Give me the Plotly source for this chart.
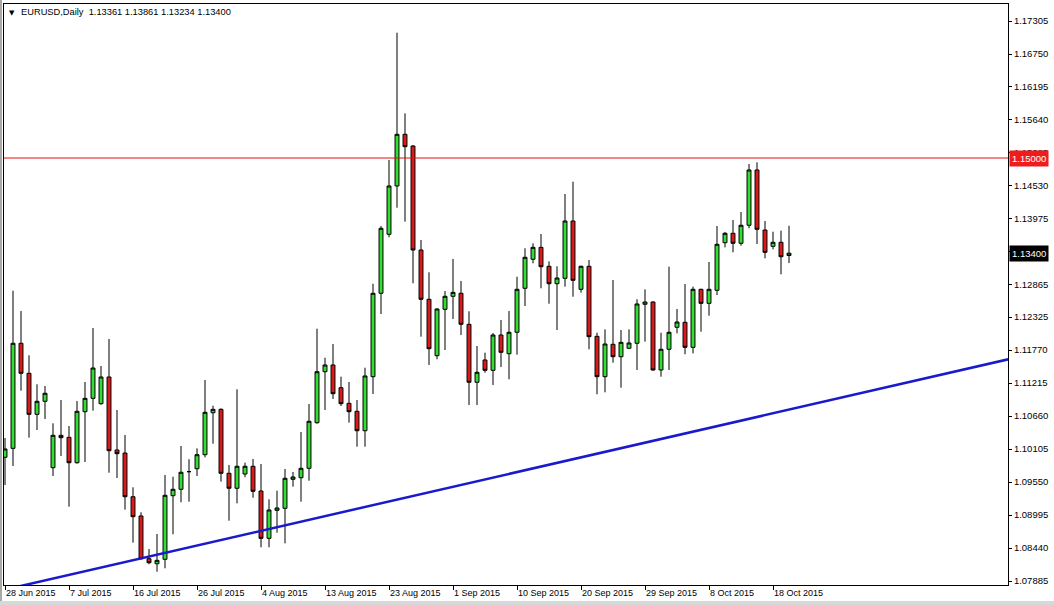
import plotly.graph_objects as go
import pandas as pd

# ---- data (EURUSD daily, Sunday bars included) ----
dates = pd.bdate_range("2015-06-28", "2015-10-20", freq="C",
                       weekmask="Sun Mon Tue Wed Thu Fri").strftime("%Y-%m-%d").tolist()

opens = [1.09966, 1.10117, 1.11884, 1.11379, 1.10689, 1.10908, 1.09791, 1.10336, 1.10302, 1.09875,
         1.10733, 1.10958, 1.10868, 1.11317, 1.10089, 1.10038, 1.09303, 1.08979, 1.08260, 1.08176,
         1.08250, 1.09320, 1.09428, 1.09725, 1.09774, 1.10010, 1.10716, 1.10773, 1.09697, 1.09445,
         1.09685, 1.09815, 1.09399, 1.08603, 1.09074, 1.09108, 1.09596, 1.09623, 1.09781, 1.10548,
         1.11406, 1.11519, 1.11137, 1.10874, 1.10740, 1.10413, 1.11322, 1.12725, 1.13717, 1.14530,
         1.15399, 1.15202, 1.13453, 1.12624, 1.11675, 1.12455, 1.12674, 1.12725, 1.12203, 1.11228,
         1.11603, 1.11429, 1.12023, 1.11709, 1.12069, 1.12809, 1.13297, 1.13498, 1.13179, 1.12886,
         1.12977, 1.13941, 1.12792, 1.13179, 1.12001, 1.11322, 1.11867, 1.11658, 1.11800, 1.11884,
         1.12540, 1.12578, 1.11435, 1.11783, 1.12153, 1.12237, 1.11816, 1.12792, 1.12556, 1.12775,
         1.13576, 1.13734, 1.13566, 1.13869, 1.14799, 1.13789, 1.13515, 1.13583, 1.13361]
highs = [1.10291, 1.12768, 1.12427, 1.11682, 1.11194, 1.11165, 1.10538, 1.10930, 1.10493, 1.10913,
         1.11233, 1.12141, 1.11502, 1.11956, 1.10762, 1.10341, 1.09461, 1.09041, 1.08424, 1.08676,
         1.09668, 1.09640, 1.10156, 1.09934, 1.10117, 1.11266, 1.10834, 1.10790, 1.09837, 1.11110,
         1.09875, 1.09937, 1.09853, 1.09259, 1.09404, 1.09769, 1.09719, 1.10392, 1.10863, 1.12129,
         1.11641, 1.11872, 1.11322, 1.11233, 1.10930, 1.11473, 1.12886, 1.13857, 1.14967, 1.17108,
         1.15752, 1.15219, 1.13621, 1.13078, 1.12472, 1.12763, 1.13302, 1.12932, 1.12422, 1.11838,
         1.11726, 1.12057, 1.12276, 1.12427, 1.13004, 1.13482, 1.13566, 1.13722, 1.13263, 1.13179,
         1.14395, 1.14602, 1.13190, 1.13285, 1.12062, 1.12119, 1.12948, 1.12107, 1.12119, 1.12624,
         1.12792, 1.12590, 1.12062, 1.13172, 1.12461, 1.12881, 1.12836, 1.12800, 1.13251, 1.13857,
         1.13756, 1.13958, 1.14092, 1.14900, 1.14928, 1.13941, 1.13761, 1.13778, 1.13861]
lows = [1.09500, 1.09820, 1.11086, 1.10296, 1.10425, 1.10610, 1.09651, 1.09988, 1.09135, 1.09860,
        1.09887, 1.10750, 1.10850, 1.09707, 1.09618, 1.09085, 1.08530, 1.08245, 1.08166, 1.08042,
        1.08099, 1.08671, 1.09209, 1.09219, 1.09651, 1.09966, 1.10195, 1.09556, 1.08900, 1.09192,
        1.09630, 1.09286, 1.08452, 1.08452, 1.08698, 1.08519, 1.09472, 1.09219, 1.09572, 1.10531,
        1.10762, 1.10947, 1.10829, 1.10548, 1.10144, 1.10144, 1.11031, 1.12376, 1.13667, 1.14165,
        1.13929, 1.12893, 1.11995, 1.11519, 1.11615, 1.11771, 1.12292, 1.12023, 1.10846, 1.10846,
        1.11389, 1.11182, 1.11485, 1.11278, 1.11692, 1.12511, 1.13229, 1.12809, 1.12550, 1.12107,
        1.12836, 1.12667, 1.12735, 1.11783, 1.11026, 1.11059, 1.11557, 1.11137, 1.11790, 1.11435,
        1.11911, 1.11423, 1.11322, 1.11435, 1.12052, 1.11699, 1.11715, 1.12079, 1.12348, 1.12696,
        1.13498, 1.13414, 1.13525, 1.13818, 1.13554, 1.13313, 1.13465, 1.13044, 1.13234]
closes = [1.10106, 1.11884, 1.11379, 1.10689, 1.10908, 1.11043, 1.10336, 1.10296, 1.09875, 1.10740,
          1.10958, 1.11468, 1.11317, 1.10077, 1.10027, 1.09303, 1.08967, 1.08260, 1.08193, 1.08233,
          1.09327, 1.09428, 1.09714, 1.09725, 1.10010, 1.10723, 1.10773, 1.09697, 1.09445, 1.09815,
          1.09815, 1.09394, 1.08603, 1.09080, 1.09113, 1.09613, 1.09635, 1.09781, 1.10572, 1.11406,
          1.11519, 1.11036, 1.10868, 1.10733, 1.10413, 1.11334, 1.12725, 1.13818, 1.14530, 1.15399,
          1.15191, 1.13453, 1.12624, 1.11793, 1.12461, 1.12674, 1.12741, 1.12203, 1.11228, 1.11396,
          1.11429, 1.12023, 1.11732, 1.12069, 1.12792, 1.13330, 1.13498, 1.13172, 1.12886, 1.12982,
          1.13941, 1.12943, 1.13179, 1.11995, 1.11322, 1.11872, 1.11658, 1.11900, 1.11889, 1.12545,
          1.12578, 1.11435, 1.11783, 1.12069, 1.12242, 1.11816, 1.12792, 1.12556, 1.12792, 1.13549,
          1.13734, 1.13566, 1.13869, 1.14799, 1.13801, 1.13414, 1.13583, 1.13340, 1.13400]

tick_dates = ["2015-06-28", "2015-07-07", "2015-07-16", "2015-07-26", "2015-08-04", "2015-08-13",
              "2015-08-23", "2015-09-01", "2015-09-10", "2015-09-20", "2015-09-29", "2015-10-08",
              "2015-10-18"]
tick_labels = ["28 Jun 2015", "7 Jul 2015", "16 Jul 2015", "26 Jul 2015", "4 Aug 2015",
               "13 Aug 2015", "23 Aug 2015", "1 Sep 2015", "10 Sep 2015", "20 Sep 2015",
               "29 Sep 2015", "8 Oct 2015", "18 Oct 2015"]

price_ticks = [1.17305, 1.16750, 1.16195, 1.15640, 1.15085, 1.14530, 1.13975, 1.13420, 1.12865,
               1.12325, 1.11770, 1.11215, 1.10660, 1.10105, 1.09550, 1.08995, 1.08440, 1.07885]
price_tick_text = ["1.17305", "1.16750", "1.16195", "1.15640", "1.15085", "1.14530", "1.13975", "",
                   "1.12865", "1.12325", "1.11770", "1.11215", "1.10660", "1.10105", "1.09550",
                   "1.08995", "1.08440", "1.07885"]

level_line = 1.15000
last_close = 1.13400
trend_bar = [0, 125.4]
trend_price = [1.07741, 1.11614]

title_text = "EURUSD,Daily\u00a0\u00a01.13361 1.13861 1.13234 1.13400"

# ---- figure ----
x = list(range(len(dates)))
tick_idx = [dates.index(d) for d in tick_dates]
FONT = "Liberation Sans, Arial, sans-serif"

fig = go.Figure()
fig.add_trace(go.Candlestick(
    x=x, open=opens, high=highs, low=lows, close=closes,
    increasing=dict(line=dict(color="black", width=1), fillcolor="#33dd33"),
    decreasing=dict(line=dict(color="black", width=1), fillcolor="#dd1a1a"),
    whiskerwidth=0, hoverinfo="skip", showlegend=False,
))
fig.add_trace(go.Scatter(
    x=trend_bar, y=trend_price, mode="lines",
    line=dict(color="#1a1acc", width=2.5), hoverinfo="skip", showlegend=False,
))

fig.add_shape(type="line", xref="paper", x0=0, x1=1, yref="y", y0=level_line, y1=level_line,
              line=dict(color="#e01010", width=1), layer="above")
# window edges (grey frame of the terminal window)
fig.add_shape(type="rect", xref="paper", yref="paper", x0=-0.01, x1=-0.002, y0=-0.1, y1=1.1,
              line=dict(width=0), fillcolor="#a8a8a8", layer="below")
fig.add_shape(type="rect", xref="paper", yref="paper", x0=-0.01, x1=1.1, y0=-0.04, y1=-0.0275,
              line=dict(width=0), fillcolor="#d8d8d8", layer="below")

annotations = []
for i, lab in zip(tick_idx, tick_labels):
    annotations.append(dict(x=i, y=0, xref="x", yref="paper", text=lab, showarrow=False,
                            xanchor="left", yanchor="top", yshift=-1, xshift=-1,
                            font=dict(family=FONT, size=9, color="black")))
annotations.append(dict(x=1, y=level_line, xref="paper", yref="y", text="1.15000", showarrow=False,
                        xanchor="left", yanchor="middle", xshift=1, bgcolor="#f01c1c",
                        borderpad=2, font=dict(family=FONT, size=9.5, color="white")))
annotations.append(dict(x=1, y=last_close, xref="paper", yref="y", text="1.13400", showarrow=False,
                        xanchor="left", yanchor="middle", xshift=1, bgcolor="black",
                        borderpad=2, font=dict(family=FONT, size=9.5, color="white")))
annotations.append(dict(x=0, y=1, xref="paper", yref="paper", text="\u25bc", showarrow=False,
                        xanchor="left", yanchor="top", xshift=3, yshift=-3,
                        font=dict(family="DejaVu Sans", size=7, color="black")))
annotations.append(dict(x=0, y=1, xref="paper", yref="paper", text=title_text, showarrow=False,
                        xanchor="left", yanchor="top", xshift=15, yshift=-1,
                        font=dict(family=FONT, size=9.3, color="black")))

fig.update_layout(
    width=1054, height=605,
    margin=dict(l=4, r=46, t=4, b=20),
    paper_bgcolor="white", plot_bgcolor="white",
    annotations=annotations,
    xaxis=dict(range=[-0.125, 125.375], showgrid=False, zeroline=False,
               showline=True, mirror=True, linecolor="black", linewidth=1,
               ticks="outside", ticklen=4, tickcolor="black", tickvals=tick_idx,
               showticklabels=False, rangeslider=dict(visible=False), fixedrange=True),
    yaxis=dict(side="right", range=[1.07818, 1.17591], showgrid=False, zeroline=False,
               showline=True, mirror=True, linecolor="black", linewidth=1,
               ticks="outside", ticklen=3, tickcolor="black",
               tickvals=price_ticks, ticktext=price_tick_text,
               tickfont=dict(family=FONT, size=9.5, color="black"), fixedrange=True),
)

fig.write_html("out.html", config={"displayModeBar": False},
               post_script="document.body.style.margin='0px';document.body.style.overflow='hidden';")
